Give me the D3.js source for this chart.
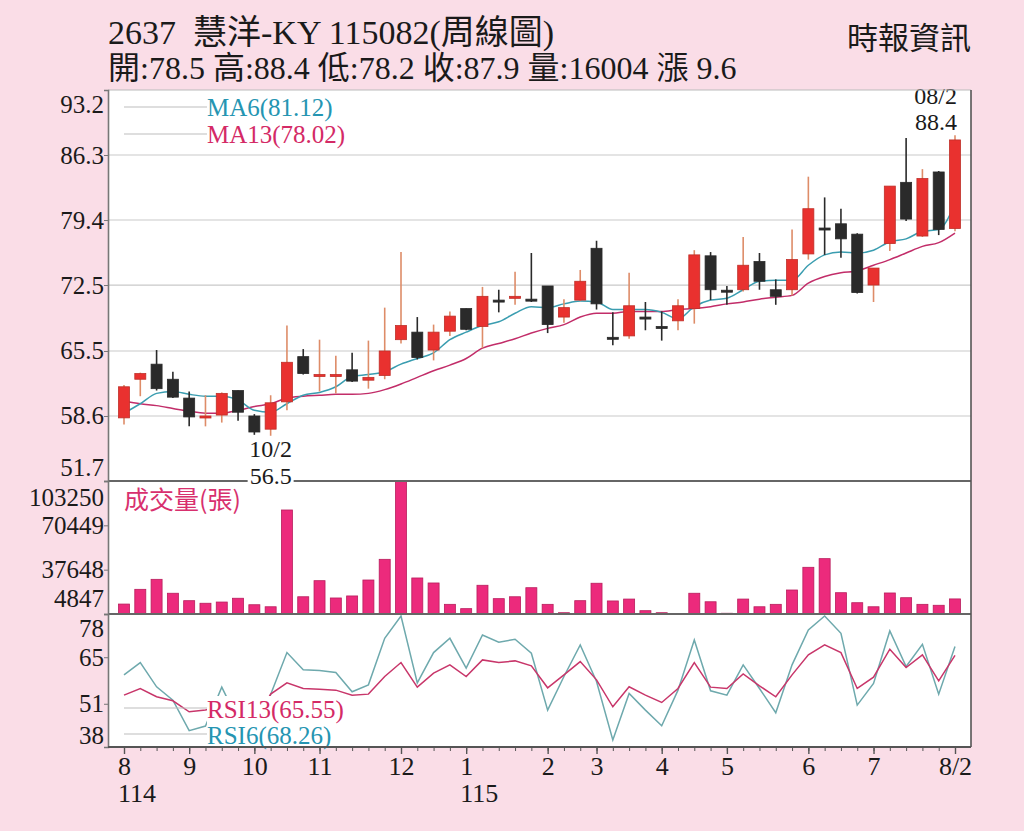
<!DOCTYPE html>
<html>
<head>
<meta charset="utf-8">
<script src="https://cdn.jsdelivr.net/npm/d3@7/dist/d3.min.js"></script>
<style>
  body { margin: 0; background: #fadde7; }
  svg { display: block; }
  .num { font-family: "Liberation Serif", "DejaVu Serif", serif; }
  .cjk { font-family: "Liberation Serif", "Noto Sans CJK TC", serif; }
</style>
</head>
<body>
<svg id="chart" width="1024" height="831"></svg>
<script>

// weekly candles, 114/08 .. 115/08 week 2
var OPEN = [58.4, 62.5, 64.1, 62.5, 60.5, 58.45, 58.7, 61.3, 58.6, 57.2,
  60.1, 64.9, 62.9, 62.9, 63.5, 62.4, 62.9, 66.7, 67.5, 65.6,
  67.6, 70.0, 68.1, 70.9, 71.1, 71.0, 72.4, 69.1, 70.9, 76.4,
  66.95, 67.1, 69.1, 68.1, 68.7, 70.0, 75.6, 71.95, 72.0, 75.0,
  72.0, 72.0, 75.8, 78.55, 79.0, 77.9, 72.5, 76.9, 83.4, 77.7,
  84.5, 78.5];
var HIGH = [61.9, 63.2, 65.6, 63.3, 61.2, 60.8, 61.1, 61.3, 58.8, 60.8,
  68.2, 65.7, 66.7, 65.0, 65.3, 66.6, 70.1, 76.0, 69.1, 68.3,
  69.7, 70.0, 72.3, 72.0, 73.9, 75.9, 72.4, 71.0, 74.1, 77.2,
  69.6, 73.8, 70.7, 69.7, 71.0, 76.2, 76.0, 72.4, 77.6, 75.9,
  73.1, 78.4, 84.0, 81.8, 80.6, 78.0, 74.3, 83.0, 88.1, 84.8,
  84.6, 88.4];
var LOW = [57.7, 60.7, 61.3, 60.5, 57.5, 57.5, 57.9, 58.1, 56.6, 56.5,
  59.2, 63.0, 61.2, 61.0, 62.2, 61.5, 62.5, 66.3, 64.6, 64.5,
  67.1, 67.7, 65.8, 69.6, 70.4, 70.7, 67.4, 68.5, 70.8, 69.9,
  66.1, 66.8, 67.7, 66.6, 67.7, 68.4, 70.9, 70.4, 71.8, 72.0,
  70.4, 71.4, 75.2, 75.7, 75.4, 71.6, 70.7, 76.1, 79.3, 77.6,
  77.8, 78.2];
var CLOSE = [61.7, 63.1, 61.5, 60.6, 58.5, 58.6, 61.0, 59.0, 56.9, 60.0,
  64.3, 63.1, 63.0, 63.0, 62.3, 62.7, 65.5, 68.2, 64.8, 67.5,
  69.2, 67.8, 71.3, 70.85, 71.3, 70.8, 68.3, 70.1, 72.9, 70.5,
  66.9, 70.3, 69.0, 67.9, 70.3, 75.7, 72.0, 71.9, 74.6, 72.9,
  71.3, 75.2, 80.6, 78.5, 77.4, 71.7, 74.3, 83.0, 79.5, 83.8,
  78.4, 87.9];

var MA6 = [58.9, 59.9, 61.0, 61.2, 60.9, 60.7, 60.7, 60.3, 59.2, 59.0,
  59.9, 60.8, 61.1, 61.7, 62.8, 63.0, 63.3, 64.1, 64.7, 65.3,
  66.7, 67.5, 68.2, 68.6, 69.5, 70.2, 70.1, 70.5, 70.8, 70.7,
  69.9, 69.9, 69.9, 69.6, 68.9, 70.2, 70.9, 71.1, 72.0, 72.9,
  73.0, 73.0, 74.6, 75.7, 76.0, 75.9, 76.2, 77.1, 77.4, 78.2,
  78.4, 81.12];
var MA13 = [60.2, 59.9, 59.7, 59.4, 59.1, 58.9, 58.9, 59.2, 59.6, 59.9,
  60.5, 60.7, 60.8, 60.9, 60.9, 61.0, 61.4, 62.0, 62.7, 63.4,
  64.0, 64.7, 65.8, 66.3, 66.8, 67.4, 67.9, 68.3, 69.1, 69.5,
  69.5, 69.7, 69.7, 69.7, 69.9, 70.0, 70.2, 70.5, 70.7, 71.0,
  71.2, 71.4, 72.7, 73.4, 73.8, 74.0, 74.6, 75.2, 75.9, 76.6,
  77.0, 78.02];

var VOLUME = [12200, 23100, 30500, 20200, 14700, 12800, 13700, 16500, 11700, 10200,
  81800, 17600, 29500, 16700, 18200, 30000, 45300, 103250, 31500, 27800,
  12000, 8800, 26100, 16200, 17600, 24300, 12000, 5800, 14700, 27600,
  14500, 15900, 7300, 5800, 4847, 20200, 13900, 5400, 15900, 10200,
  12000, 22600, 39400, 45800, 20600, 13200, 10200, 20400, 16900, 12000,
  11300, 16004];

var RSI6 = [59.7, 63.4, 56.1, 52.1, 42.9, 44.3, 56.0, 46.0, 38.5, 53.8,
  66.4, 61.2, 61.0, 60.4, 54.6, 56.7, 70.7, 77.4, 57.3, 66.4,
  70.7, 61.7, 71.7, 69.5, 70.4, 66.2, 49.1, 59.2, 68.7, 57.7,
  40.1, 54.1, 49.1, 44.4, 55.1, 70.2, 54.9, 53.6, 62.7, 55.6,
  48.3, 62.7, 73.2, 77.4, 72.2, 50.6, 57.1, 72.9, 62.2, 68.9,
  53.9, 68.26];
var RSI13 = [53.6, 55.6, 53.1, 51.9, 48.6, 49.1, 50.5, 48.5, 45.0, 53.9,
  57.3, 55.6, 55.4, 55.1, 53.6, 53.9, 59.2, 63.4, 56.0, 60.2,
  62.7, 59.2, 64.2, 63.4, 63.9, 62.4, 55.8, 59.7, 63.7, 58.2,
  50.1, 56.1, 53.6, 51.4, 55.6, 63.4, 56.0, 55.6, 60.0, 56.4,
  53.1, 59.7, 65.7, 68.7, 66.4, 55.6, 59.0, 67.4, 61.9, 65.7,
  57.9, 65.55];

var PRICE_TICKS = [93.2, 86.3, 79.4, 72.5, 65.5, 58.6, 51.7];
var VOLUME_TICKS = [103250, 70449, 37648, 4847];
var RSI_TICKS = [78, 65, 51, 38];

var MONTH_TICK_INDEX = [0, 4, 8, 12, 17, 21, 26, 29, 33, 37, 42, 46, 51];
var MONTH_TICK_LABELS = ["8", "9", "10", "11", "12", "1", "2", "3", "4", "5", "6", "7", "8/2"];
var YEAR_TICK_INDEX = [0, 21];
var YEAR_TICK_LABELS = ["114", "115"];

var TITLE = "2637  慧洋-KY 115082(周線圖)";
var SUBTITLE = "開:78.5 高:88.4 低:78.2 收:87.9 量:16004 漲 9.6";
var SOURCE = "時報資訊";

// layout
var PLOT_LEFT = 108, PLOT_RIGHT = 971;
var PRICE_TOP = 90, PRICE_BOTTOM = 481;
var VOL_TOP = 481, VOL_BOTTOM = 614;
var RSI_TOP = 614, RSI_BOTTOM = 747;
var CANDLE_WIDTH = 11;
var BAR_WIDTH = 11;

var RED = "#e9312f", RED_EDGE = "#bf2f28", RED_WICK = "#de8c68";
var BLACK = "#2a2a2a";
var TEAL = "#3a9db0", MAGENTA = "#c22d69";
var TEAL_TEXT = "#2595b2", MAGENTA_TEXT = "#d42a66";

var svg = d3.select("#chart");

var x = d3.scaleLinear().domain([0, CLOSE.length - 1]).range([124, 955]);
var yPrice = d3.scaleLinear().domain([51.7, 93.2]).range([PRICE_BOTTOM, PRICE_TOP]);
var yVol = d3.scaleLinear().domain([4847, 103250]).range([VOL_BOTTOM, VOL_TOP]);
var yRsi = d3.scaleLinear().domain([38, 78]).range([RSI_BOTTOM, RSI_TOP]);

// header
svg.append("text").attr("class", "cjk")
  .attr("x", 108).attr("y", 44)
  .style("font-size", "34px").attr("fill", "#1a1a1a")
  .attr("xml:space", "preserve")
  .text(TITLE);
svg.append("text").attr("class", "cjk")
  .attr("x", 108).attr("y", 79)
  .style("font-size", "32px").attr("fill", "#1a1a1a")
  .text(SUBTITLE);
svg.append("text")
  .attr("x", 971).attr("y", 49)
  .attr("text-anchor", "end")
  .style("font-family", "'Noto Sans CJK TC'")
  .style("font-size", "31px").attr("fill", "#1a1a1a")
  .text(SOURCE);

// plot background
svg.append("rect")
  .attr("x", PLOT_LEFT).attr("y", PRICE_TOP)
  .attr("width", PLOT_RIGHT - PLOT_LEFT).attr("height", RSI_BOTTOM - PRICE_TOP)
  .attr("fill", "#fff");

// price gridlines
svg.append("g").selectAll("line")
  .data(PRICE_TICKS.slice(1, -1))
  .enter().append("line")
  .attr("x1", PLOT_LEFT).attr("x2", PLOT_RIGHT)
  .attr("y1", function (d) { return yPrice(d); })
  .attr("y2", function (d) { return yPrice(d); })
  .attr("stroke", "#c9c9c9").attr("stroke-width", 1.2);

// MA legend
var maLegend = svg.append("g");
[["MA6(81.12)", TEAL_TEXT], ["MA13(78.02)", MAGENTA_TEXT]].forEach(function (item, i) {
  var ly = 107 + i * 27;
  maLegend.append("line")
    .attr("x1", 124).attr("x2", 207).attr("y1", ly).attr("y2", ly)
    .attr("stroke", "#bdbdbd").attr("stroke-width", 1.2);
  maLegend.append("text").attr("class", "num")
    .attr("x", 207).attr("y", ly + 9)
    .style("font-size", "25px").attr("fill", item[1])
    .text(item[0]);
});

// moving averages
var lineGen = function (scale) {
  return d3.line()
    .x(function (d, i) { return x(i); })
    .y(function (d) { return scale(d); })
    .curve(d3.curveMonotoneX);
};
svg.append("path").datum(MA13)
  .attr("d", lineGen(yPrice)).attr("fill", "none")
  .attr("stroke", MAGENTA).attr("stroke-width", 1.5);
svg.append("path").datum(MA6)
  .attr("d", lineGen(yPrice)).attr("fill", "none")
  .attr("stroke", TEAL).attr("stroke-width", 1.5);

// candles
var candles = svg.append("g").selectAll("g")
  .data(CLOSE.map(function (c, i) {
    return { i: i, o: OPEN[i], h: HIGH[i], l: LOW[i], c: c };
  }))
  .enter().append("g");

candles.append("line")
  .attr("x1", function (d) { return x(d.i); })
  .attr("x2", function (d) { return x(d.i); })
  .attr("y1", function (d) { return yPrice(d.h); })
  .attr("y2", function (d) { return yPrice(d.l); })
  .attr("stroke", function (d) { return d.c >= d.o ? RED_WICK : BLACK; })
  .attr("stroke-width", 1.6);

candles.append("rect")
  .attr("x", function (d) { return x(d.i) - CANDLE_WIDTH / 2; })
  .attr("width", CANDLE_WIDTH)
  .attr("y", function (d) { return yPrice(Math.max(d.o, d.c)); })
  .attr("height", function (d) {
    return Math.max(2, Math.abs(yPrice(d.o) - yPrice(d.c)));
  })
  .attr("fill", function (d) { return d.c >= d.o ? RED : BLACK; })
  .attr("stroke", function (d) { return d.c >= d.o ? RED_EDGE : BLACK; })
  .attr("stroke-width", 0.8);

// high / low annotations
var lowIdx = d3.minIndex(LOW), highIdx = d3.maxIndex(HIGH);
var lowLabel = svg.append("g").attr("class", "num").style("font-size", "24px").attr("fill", "#1a1a1a");
lowLabel.append("text")
  .attr("x", x(lowIdx)).attr("y", yPrice(LOW[lowIdx]) + 21)
  .attr("text-anchor", "middle").text("10/2");
lowLabel.append("rect")
  .attr("x", x(lowIdx) - 23).attr("y", yPrice(LOW[lowIdx]) + 29)
  .attr("width", 46).attr("height", 22).attr("fill", "#fff");

var highLabel = svg.append("g").attr("class", "num").style("font-size", "24px").attr("fill", "#1a1a1a");
highLabel.append("text")
  .attr("x", x(highIdx) + 2).attr("y", yPrice(HIGH[highIdx]) - 31)
  .attr("text-anchor", "end").text("08/2");
highLabel.append("text")
  .attr("x", x(highIdx) + 2).attr("y", yPrice(HIGH[highIdx]) - 5)
  .attr("text-anchor", "end").text(HIGH[highIdx].toFixed(1));

// volume bars
svg.append("g").selectAll("rect")
  .data(VOLUME)
  .enter().append("rect")
  .attr("x", function (d, i) { return x(i) - BAR_WIDTH / 2; })
  .attr("width", BAR_WIDTH)
  .attr("y", function (d) { return yVol(d); })
  .attr("height", function (d) { return VOL_BOTTOM - yVol(d); })
  .attr("fill", "#ec2a7c").attr("stroke", "#b81d5c").attr("stroke-width", 0.8);

svg.append("text")
  .attr("x", 124).attr("y", 509)
  .style("font-family", "'Noto Sans CJK TC'")
  .style("font-size", "25px").attr("fill", "#d8306e")
  .text("成交量(張)");

// RSI lines
var rsiLine = d3.line()
  .x(function (d, i) { return x(i); })
  .y(function (d) { return yRsi(d); });
svg.append("path").datum(RSI6)
  .attr("d", rsiLine).attr("fill", "none")
  .attr("stroke", "#6ea9ad").attr("stroke-width", 1.5);
svg.append("path").datum(RSI13)
  .attr("d", rsiLine).attr("fill", "none")
  .attr("stroke", "#c8366a").attr("stroke-width", 1.5);

// RSI legend (white box covers the lines under the text)
var rsiLegend = svg.append("g");
rsiLegend.append("rect")
  .attr("x", 207).attr("y", 696).attr("width", 140).attr("height", RSI_BOTTOM - 696)
  .attr("fill", "#fff");
[["RSI13(65.55)", MAGENTA_TEXT], ["RSI6(68.26)", TEAL_TEXT]].forEach(function (item, i) {
  var ly = 708 + i * 26;
  rsiLegend.append("line")
    .attr("x1", 124).attr("x2", 207).attr("y1", ly).attr("y2", ly)
    .attr("stroke", "#bdbdbd").attr("stroke-width", 1.2);
  rsiLegend.append("text").attr("class", "num")
    .attr("x", 207).attr("y", ly + 10)
    .style("font-size", "25px").attr("fill", item[1])
    .text(item[0]);
});

// frame and panel separators
svg.append("line")
  .attr("x1", PLOT_LEFT).attr("x2", PLOT_RIGHT).attr("y1", PRICE_TOP).attr("y2", PRICE_TOP)
  .attr("stroke", "#bbb").attr("stroke-width", 1);
[VOL_TOP, RSI_TOP].forEach(function (yy) {
  svg.append("line")
    .attr("x1", PLOT_LEFT).attr("x2", PLOT_RIGHT).attr("y1", yy).attr("y2", yy)
    .attr("stroke", "#666").attr("stroke-width", 1.8);
});
svg.append("line")
  .attr("x1", PLOT_RIGHT).attr("x2", PLOT_RIGHT).attr("y1", PRICE_TOP).attr("y2", RSI_BOTTOM)
  .attr("stroke", "#555").attr("stroke-width", 1.6);

// put the 56.5 label on top of the separator line
lowLabel.raise();
lowLabel.append("text")
  .attr("x", x(lowIdx)).attr("y", yPrice(LOW[lowIdx]) + 48)
  .attr("text-anchor", "middle").text(LOW[lowIdx].toFixed(1));

// left axes
function styleAxis(g, edgeShift) {
  g.select(".domain").attr("stroke", "#777").attr("stroke-width", 1.6);
  g.selectAll(".tick line").attr("stroke", "#777");
  g.selectAll(".tick text")
    .attr("class", "num")
    .style("font-size", "25px")
    .attr("fill", "#1a1a1a")
    .attr("x", -4);
  var texts = g.selectAll(".tick text").nodes();
  d3.select(texts[0]).attr("dy", (0.32 + edgeShift[0]) + "em");
  d3.select(texts[texts.length - 1]).attr("dy", (0.32 + edgeShift[1]) + "em");
}

svg.append("g")
  .attr("transform", "translate(" + PLOT_LEFT + ",0)")
  .call(d3.axisLeft(yPrice).tickValues(PRICE_TICKS).tickSize(4).tickFormat(d3.format(".1f")))
  .call(styleAxis, [0.56, -0.56]);

svg.append("g")
  .attr("transform", "translate(" + PLOT_LEFT + ",0)")
  .call(d3.axisLeft(yVol).tickValues(VOLUME_TICKS).tickSize(4).tickFormat(d3.format("d")))
  .call(styleAxis, [0.64, -0.64]);

svg.append("g")
  .attr("transform", "translate(" + PLOT_LEFT + ",0)")
  .call(d3.axisLeft(yRsi).tickValues(RSI_TICKS).tickSize(4).tickFormat(d3.format("d")))
  .call(styleAxis, [0.56, -0.48]);

// bottom axis: weekly ticks, month labels
var weekAxis = svg.append("g")
  .attr("transform", "translate(0," + RSI_BOTTOM + ")")
  .call(d3.axisBottom(x).tickValues(d3.range(CLOSE.length)).tickSize(4).tickFormat(""));
weekAxis.select(".domain").remove();
weekAxis.selectAll(".tick line").attr("stroke", "#555");

var monthAxis = svg.append("g")
  .attr("transform", "translate(0," + RSI_BOTTOM + ")")
  .call(d3.axisBottom(x).tickValues(MONTH_TICK_INDEX).tickSize(7).tickPadding(3)
    .tickFormat(function (d, i) { return MONTH_TICK_LABELS[i]; }));
monthAxis.select(".domain").remove();
monthAxis.selectAll(".tick line").attr("stroke", "#555").attr("stroke-width", 1.4);
monthAxis.selectAll(".tick text")
  .attr("class", "num").style("font-size", "26px").attr("fill", "#1a1a1a");

svg.append("line")
  .attr("x1", PLOT_LEFT).attr("x2", PLOT_RIGHT).attr("y1", RSI_BOTTOM).attr("y2", RSI_BOTTOM)
  .attr("stroke", "#555").attr("stroke-width", 1.8);

svg.append("g").selectAll("text")
  .data(YEAR_TICK_INDEX)
  .enter().append("text")
  .attr("class", "num")
  .attr("x", function (d) { return x(d) - 6; })
  .attr("y", 802)
  .style("font-size", "26px").attr("fill", "#1a1a1a")
  .text(function (d, i) { return YEAR_TICK_LABELS[i]; });

</script>
</body>
</html>
